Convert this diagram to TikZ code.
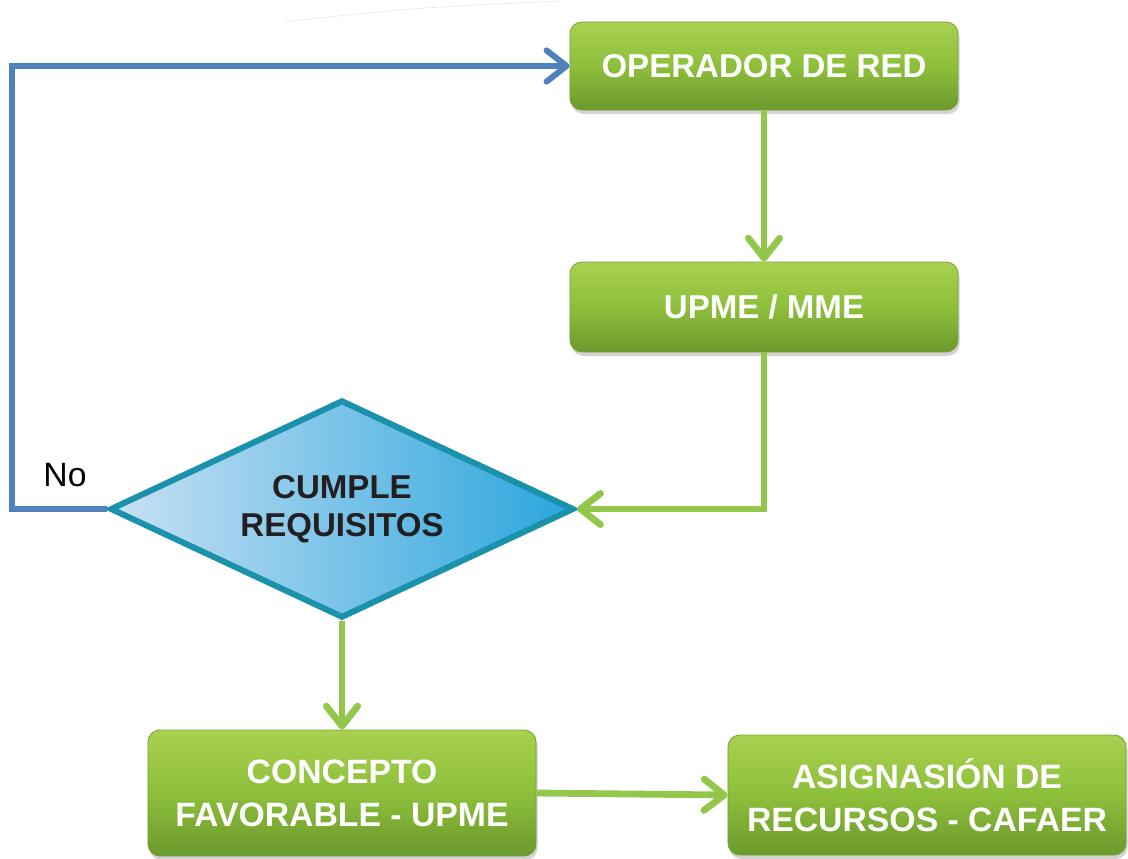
\documentclass[tikz,border=0pt]{standalone}
\usepackage{fontspec}
\setmainfont{Liberation Sans}
\usetikzlibrary{arrows.meta, shapes.geometric, shadows}

\definecolor{verdearriba}{HTML}{A9D150}
\definecolor{verdemedio}{HTML}{8DBF3B}
\definecolor{verdeabajo}{HTML}{6C992D}
\definecolor{verdeborde}{HTML}{77A233}
\definecolor{verdeflecha}{HTML}{92C74B}
\definecolor{azulflecha}{HTML}{4F81BD}
\definecolor{rombobord}{HTML}{1B92AB}
\definecolor{romboizq}{HTML}{C9E1F4}
\definecolor{romboder}{HTML}{2AA5DC}
\definecolor{textooscuro}{HTML}{231F20}

\tikzset{
  paso/.style={rectangle, rounded corners=0.3cm, minimum width=9.7cm,
    minimum height=2.2cm, inner sep=0pt, draw=verdeborde, line width=0.6pt,
    top color=verdearriba, bottom color=verdeabajo, middle color=verdemedio,
    text=white, align=center, font=\bfseries\fontsize{23.5}{28.5}\selectfont,
    drop shadow={shadow xshift=0.04cm, shadow yshift=-0.1cm, opacity=0.35}},
  pasodoble/.style={paso, font=\bfseries\fontsize{24}{30.5}\selectfont},
  decision/.style={diamond, aspect=2.1, minimum width=11.6cm,
    minimum height=5.45cm, inner sep=0pt, draw=rombobord, line width=0.15cm,
    line join=miter, left color=romboizq, right color=romboder,
    text=textooscuro, align=center, font=\bfseries\fontsize{23.5}{27}\selectfont},
  flechav/.style={draw=verdeflecha, line width=0.17cm,
    -{Straight Barb[length=0.5cm,width=0.78cm,round]}},
  flechaa/.style={draw=azulflecha, line width=0.15cm,
    -{Straight Barb[length=0.5cm,width=0.78cm,round]}}
}

\begin{document}
\begin{tikzpicture}[x=0.025cm, y=-0.025cm]
\useasboundingbox (0,0) rectangle (1128,858);
\draw[gray!20, thin] (285,22) .. controls (410,8) .. (560,1);

% cajas
\node[paso] (operador) at (764,66) {OPERADOR DE RED};
\node[paso, minimum height=2.25cm] (upme) at (764,307) {UPME / MME};
\node[decision] (cumple) at (342,509) {CUMPLE\\REQUISITOS};
\node[pasodoble, minimum height=3.15cm] (concepto) at (342,793) {CONCEPTO\\FAVORABLE - UPME};
\node[pasodoble, minimum width=9.95cm, minimum height=3.0cm] (asigna) at (927,795) {ASIGNASIÓN DE\\RECURSOS - CAFAER};

% flechas
\draw[flechav] (operador.south) -- (upme.north);
\draw[flechav] (upme.south) |- (cumple.east);
\draw[flechav] (cumple.south) -- (concepto.north);
\draw[flechav] (concepto.east) -- (asigna.west);

\coordinate (vuelta) at (12,509);
\draw[flechaa] (cumple.west) -- (vuelta) |- (operador.west);
\node[font=\fontsize{24}{28}\selectfont] (no) at (65,475) {No};
\end{tikzpicture}
\end{document}
